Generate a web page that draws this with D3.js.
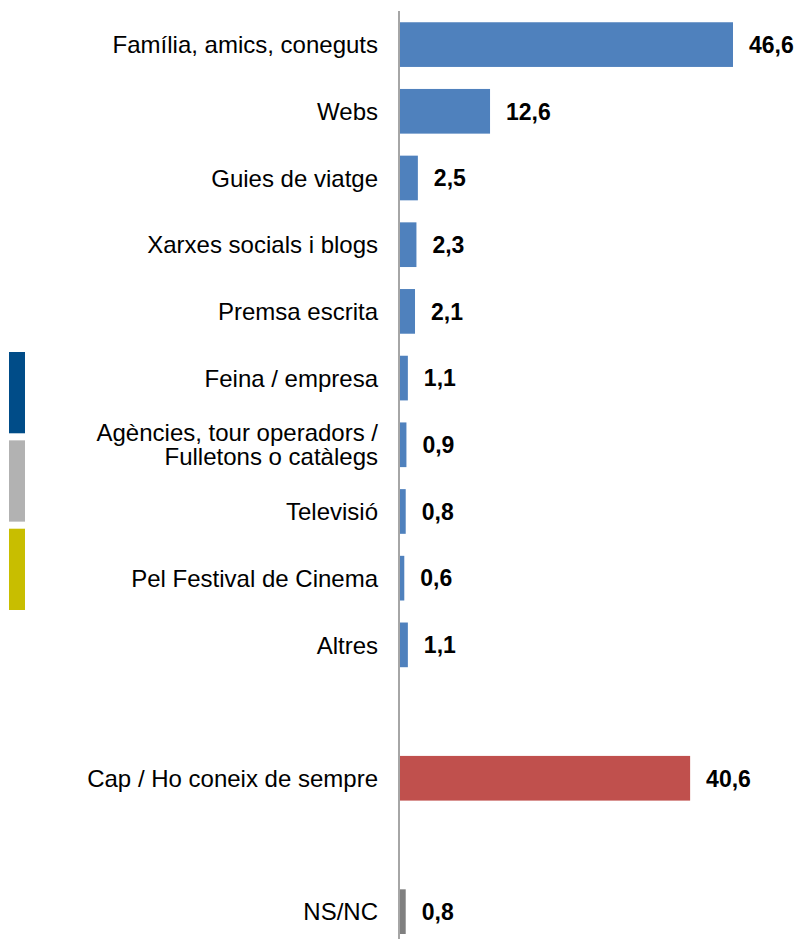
<!DOCTYPE html>
<html>
<head>
<meta charset="utf-8">
<script src="https://cdn.jsdelivr.net/npm/d3@7"></script>
<style>
  body { margin: 0; background: #fff; }
  svg { display: block; font-family: "Liberation Sans", Arial, sans-serif; }
</style>
</head>
<body>
<div class="chart"></div>
<script>
const categories = [
  "Família, amics, coneguts",
  "Webs",
  "Guies de viatge",
  "Xarxes socials i blogs",
  "Premsa escrita",
  "Feina / empresa",
  "Agències, tour operadors /\nFulletons o catàlegs",
  "Televisió",
  "Pel Festival de Cinema",
  "Altres",
  "",
  "Cap / Ho coneix de sempre",
  "",
  "NS/NC",
];
const values = [46.6, 12.6, 2.5, 2.3, 2.1, 1.1, 0.9, 0.8, 0.6, 1.1, null, 40.6, null, 0.8];
const groups = ["font", "font", "font", "font", "font", "font", "font", "font", "font", "font", "buit", "cap", "buit", "nsnc"];
const legendGroups = ["a", "b", "c"];

const colors = { font: "#4f81bd", cap: "#c0504d", nsnc: "#808080" };
const legendColors = { a: "#004c88", b: "#b2b2b2", c: "#c8be00" };

const width = 798, height = 939;
const x0 = 399;

const rows = categories.map((c, i) => ({ key: "r" + i, label: c, value: values[i], group: groups[i] }));

const fmt = d3.formatLocale({ decimal: ",", thousands: ".", grouping: [3], currency: ["", "€"] }).format(".1f");

const x = d3.scaleLinear().domain([0, 46.6]).range([x0 + 1, 733]);
const y = d3.scaleBand()
  .domain(rows.map((d) => d.key))
  .range([11.25, 945])
  .paddingInner(0.33)
  .paddingOuter(0.165);

const svg = d3.select(".chart").append("svg")
  .attr("width", width)
  .attr("height", height);

// swatches on the left
const ly = d3.scaleBand().domain(legendGroups).range([352, 610]).paddingInner(0.08);
svg.selectAll("rect.leg")
  .data(legendGroups)
  .enter().append("rect")
  .attr("class", "leg")
  .attr("x", 9)
  .attr("y", (d) => ly(d))
  .attr("width", 16)
  .attr("height", ly.bandwidth())
  .attr("fill", (d) => legendColors[d]);

const bars = rows.filter((d) => d.value != null);

svg.selectAll("rect.bar")
  .data(bars)
  .enter().append("rect")
  .attr("class", "bar")
  .attr("x", x(0))
  .attr("y", (d) => y(d.key))
  .attr("width", (d) => x(d.value) - x(0))
  .attr("height", y.bandwidth())
  .attr("fill", (d) => colors[d.group]);

svg.selectAll("text.val")
  .data(bars)
  .enter().append("text")
  .attr("class", "val")
  .attr("x", (d) => x(d.value) + 16)
  .attr("y", (d) => y(d.key) + y.bandwidth() / 2)
  .attr("dy", "0.36em")
  .attr("font-size", 23)
  .attr("font-weight", "bold")
  .attr("fill", "#000")
  .text((d) => fmt(d.value));

// axis with category labels
const yAxis = d3.axisLeft(y)
  .tickSize(0)
  .tickPadding(21)
  .tickFormat(() => "");

const gAxis = svg.append("g")
  .attr("transform", `translate(${x0},0)`)
  .call(yAxis);

gAxis.select(".domain").attr("stroke", "#888").attr("stroke-width", 1.5).attr("d", "M0,11V939");

const lineGap = 24;
gAxis.selectAll(".tick text")
  .attr("font-size", 24)
  .attr("font-family", "'Liberation Sans', Arial, sans-serif")
  .attr("fill", "#000")
  .each(function (k) {
    const row = rows.find((r) => r.key === k);
    const lines = row.label ? row.label.split("\n") : [];
    const t = d3.select(this).text(null).attr("dy", null);
    lines.forEach((line, i) => {
      t.append("tspan")
        .attr("x", -21)
        .attr("dy", i === 0 ? 0.36 * 24 - (lines.length - 1) * lineGap / 2 : lineGap)
        .text(line);
    });
  });
</script>
</body>
</html>
